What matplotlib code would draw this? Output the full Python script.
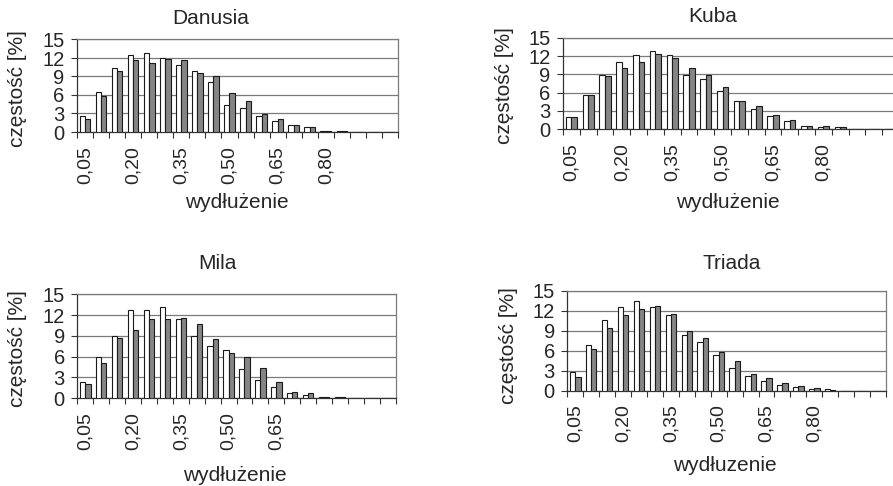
import matplotlib
matplotlib.use('Agg')
import matplotlib.pyplot as plt
import numpy as np

plt.rcParams['font.family'] = ['Liberation Sans', 'DejaVu Sans']

W, H = 893, 486

# categories (wydłużenie)
categories = ['0,05', '0,10', '0,15', '0,20', '0,25', '0,30', '0,35', '0,40',
              '0,45', '0,50', '0,55', '0,60', '0,65', '0,70', '0,75', '0,80',
              '0,85', '0,90', '0,95', '1,00']
labels_full = ['0,05', '', '', '0,20', '', '', '0,35', '', '', '0,50', '', '',
               '0,65', '', '', '0,80', '', '', '', '']
labels_mila = ['0,05', '', '', '0,20', '', '', '0,35', '', '', '0,50', '', '',
               '0,65', '', '', '', '', '', '', '']

# Danusia
danusia_a = [2.6, 6.5, 10.4, 12.5, 12.8, 12.0, 10.9, 9.9, 8.1, 4.4, 3.9, 2.6,
             1.8, 1.1, 0.8, 0.2, 0.15, 0, 0, 0]
danusia_b = [2.1, 5.8, 9.9, 11.6, 11.2, 11.8, 11.7, 9.6, 9.1, 6.3, 5.0, 2.9,
             2.1, 1.1, 0.8, 0.2, 0.2, 0, 0, 0]
# Kuba
kuba_a = [2.0, 5.6, 8.9, 11.0, 12.1, 12.9, 12.1, 8.9, 8.2, 6.3, 4.6, 3.3,
          2.2, 1.4, 0.6, 0.45, 0.3, 0, 0, 0]
kuba_b = [2.0, 5.6, 8.7, 10.0, 11.1, 12.3, 11.6, 10.0, 8.9, 6.9, 4.6, 3.8,
          2.4, 1.6, 0.6, 0.6, 0.3, 0, 0, 0]
# Mila
mila_a = [2.4, 6.0, 9.0, 12.7, 12.7, 13.2, 11.4, 9.0, 7.5, 7.0, 4.2, 2.6,
          1.7, 0.7, 0.45, 0.2, 0.2, 0, 0, 0]
mila_b = [2.0, 5.1, 8.7, 9.8, 11.4, 11.4, 11.6, 10.7, 8.6, 6.5, 5.9, 4.4,
          2.4, 0.95, 0.7, 0.25, 0.25, 0, 0, 0]
# Triada
triada_a = [2.8, 6.8, 10.6, 12.5, 13.5, 12.5, 11.35, 8.4, 7.25, 5.4, 3.4, 2.2,
            1.45, 0.9, 0.55, 0.3, 0.2, 0, 0, 0]
triada_b = [2.05, 6.3, 9.4, 11.35, 12.25, 12.7, 11.5, 8.9, 7.95, 5.85, 4.4,
            2.45, 1.9, 1.2, 0.72, 0.45, 0.15, 0, 0, 0]

yticks = [0, 3, 6, 9, 12, 15]

# (name, a, b, xlabels, xlabel text, axes box px [left, top, right, bottom],
#  title pos, ylabel pos, xlabel pos)
panels = [
    ('Danusia', danusia_a, danusia_b, labels_full, 'wydłużenie',
     (77, 39.5, 398, 132), (211, 18), (18, 89), (237, 203)),
    ('Kuba', kuba_a, kuba_b, labels_full, 'wydłużenie',
     (563, 37.7, 899, 129.3), (713, 16), (505, 86), (728, 202)),
    ('Mila', mila_a, mila_b, labels_mila, 'wydłużenie',
     (77.3, 294.3, 395.7, 398.3), (217, 263), (18, 349), (235, 475)),
    ('Triada', triada_a, triada_b, labels_full, 'wydłuzenie',
     (567.3, 290.7, 886, 390.7), (732, 263), (509, 346), (725, 465)),
]

txt_col = '#262626'
fs = 14

fig = plt.figure(figsize=(W / 100, H / 100), dpi=100)

for name, a, b, xlab, xtext, box, tpos, ypos, xpos in panels:
    l, t, r, btm = box
    ax = fig.add_axes([l / W, 1 - btm / H, (r - l) / W, (btm - t) / H])
    x = np.arange(len(categories))
    w = 0.33
    ax.bar(x - w / 2, a, width=w, color='white', edgecolor='#1a1a1a',
           linewidth=0.8, zorder=3)
    ax.bar(x + w / 2, b, width=w, color='#858585', edgecolor='#1a1a1a',
           linewidth=0.8, zorder=3)
    ax.set_xlim(-0.5, len(categories) - 0.5)
    ax.set_ylim(0, 15)
    ax.set_yticks(yticks)
    ax.yaxis.grid(True, color='#7a7a7a', linewidth=0.9, zorder=0)
    ax.set_axisbelow(True)

    ax.set_xticks(x)
    ax.set_xticklabels(xlab, rotation=90, fontsize=fs, color=txt_col)
    ax.set_xticks(np.arange(len(categories) + 1) - 0.5, minor=True)
    ax.tick_params(axis='x', which='major', length=0, pad=10)
    ax.tick_params(axis='x', which='minor', length=4, width=0.8,
                   direction='out', color='#333333')
    ax.tick_params(axis='y', length=4, width=0.8, direction='out', pad=5,
                   labelsize=fs + 0.5, labelcolor=txt_col, color='#333333')

    for s in ('top', 'right'):
        ax.spines[s].set_color('#7a7a7a')
        ax.spines[s].set_linewidth(0.9)
    for s in ('left', 'bottom'):
        ax.spines[s].set_color('#333333')
        ax.spines[s].set_linewidth(0.9)

    fig.text(tpos[0] / W, 1 - tpos[1] / H, name, ha='center', va='center',
             fontsize=fs + 1, color=txt_col)
    fig.text(ypos[0] / W, 1 - ypos[1] / H, 'częstość [%]', ha='center',
             va='center', rotation=90, fontsize=fs + 1, color=txt_col)
    fig.text(xpos[0] / W, 1 - xpos[1] / H, xtext, ha='center', va='center',
             fontsize=fs + 1, color=txt_col)

fig.savefig('out.png', dpi=100)
